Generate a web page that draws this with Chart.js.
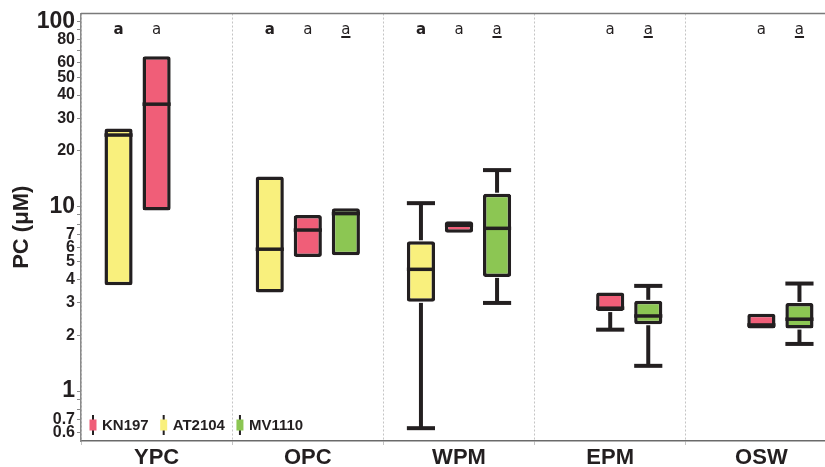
<!DOCTYPE html>
<html><head><meta charset="utf-8">
<script src="https://cdn.jsdelivr.net/npm/chart.js@4/dist/chart.umd.min.js"></script>
<style>html,body{margin:0;padding:0;overflow:hidden;background:#fff}#wrap{width:837px;height:467px}</style>
</head><body><div id="wrap"><canvas id="c" width="837" height="467"></canvas></div>
<script>
// ---- data ----
const categories = ['YPC', 'OPC', 'WPM', 'EPM', 'OSW'];
const seriesNames = ['AT2104', 'KN197', 'MV1110'];   // slot order inside each group
const legendOrder = ['KN197', 'AT2104', 'MV1110'];

const at2104Min    = [null, null, 0.63, null, null];
const at2104Q1     = [3.74, 3.42, 3.04, null, null];
const at2104Median = [24.3, 5.86, 4.56, null, null];
const at2104Q3     = [26.4, 14.5, 6.47, null, null];
const at2104Max    = [null, null, 10.4, null, null];

const kn197Min    = [null, null, null, 2.15, null];
const kn197Q1     = [9.5, 5.32, 7.2, 2.71, 2.18];
const kn197Median = [35.7, 7.44, 7.9, 2.81, 2.28];
const kn197Q3     = [64.9, 8.97, 8.3, 3.42, 2.62];
const kn197Max    = [null, null, null, null, null];

const mv1110Min    = [null, null, 3.0, 1.37, 1.80];
const mv1110Q1     = [null, 5.43, 4.15, 2.30, 2.18];
const mv1110Median = [null, 9.13, 7.6, 2.55, 2.45];
const mv1110Q3     = [null, 9.75, 11.7, 3.08, 3.0];
const mv1110Max    = [null, null, 15.7, 3.71, 3.82];

const at2104Letters = ['a', 'a', 'a', null, null];
const kn197Letters  = ['a', 'a', 'a', 'a', 'a'];
const mv1110Letters = [null, 'a', 'a', 'a', 'a'];

const yTickValues = [0.6, 0.7, 0.8, 0.9, 1, 2, 3, 4, 5, 6, 7, 8, 9, 10, 20, 30, 40, 50, 60, 70, 80, 90, 100];
const yTickLabels = ['0.6', '0.7', '', '', '1', '2', '3', '4', '5', '6', '7', '', '', '10', '20', '30', '40', '50', '60', '', '80', '', '100'];
const yBigTicks = [1, 10, 100];

// ---- styles ----
const DARK = '#231f20';
const colors = { AT2104: '#f9f07d', KN197: '#f05e78', MV1110: '#8cc653' };
const letterStyle = { AT2104: 'bold', KN197: 'normal', MV1110: 'underline' };
const FONT = "'Liberation Sans', Arial, Helvetica, sans-serif";

const stats = {
  AT2104: { min: at2104Min, q1: at2104Q1, med: at2104Median, q3: at2104Q3, max: at2104Max, letters: at2104Letters },
  KN197:  { min: kn197Min,  q1: kn197Q1,  med: kn197Median,  q3: kn197Q3,  max: kn197Max,  letters: kn197Letters },
  MV1110: { min: mv1110Min, q1: mv1110Q1, med: mv1110Median, q3: mv1110Q3, max: mv1110Max, letters: mv1110Letters }
};

const datasets = seriesNames.map(name => ({
  label: name,
  data: categories.map((c, i) => stats[name].q1[i] == null ? null : [stats[name].q1[i], stats[name].q3[i]]),
  backgroundColor: colors[name],
  borderColor: DARK,
  borderWidth: 3.5,
  borderRadius: 2.5,
  borderSkipped: false,
  categoryPercentage: 0.755,
  barPercentage: 0.74
}));

const boxPlugin = {
  id: 'boxExtras',
  afterDatasetsDraw(chart) {
    const ctx = chart.ctx, y = chart.scales.y;
    ctx.save();
    ctx.strokeStyle = DARK;
    ctx.lineCap = 'butt';
    seriesNames.forEach((name, di) => {
      const meta = chart.getDatasetMeta(di);
      const s = stats[name];
      meta.data.forEach((el, j) => {
        if (s.q1[j] == null) return;
        const x = el.x, w = el.width;
        const yq1 = y.getPixelForValue(s.q1[j]);
        const yq3 = y.getPixelForValue(s.q3[j]);
        ctx.lineWidth = 4;
        if (s.max[j] != null) {
          const ym = y.getPixelForValue(s.max[j]);
          ctx.beginPath(); ctx.moveTo(x, yq3 - 1); ctx.lineTo(x, ym); ctx.stroke();
          ctx.beginPath(); ctx.moveTo(x - w / 2, ym); ctx.lineTo(x + w / 2, ym); ctx.stroke();
        }
        if (s.min[j] != null) {
          const ym = y.getPixelForValue(s.min[j]);
          ctx.beginPath(); ctx.moveTo(x, yq1 + 1); ctx.lineTo(x, ym); ctx.stroke();
          ctx.beginPath(); ctx.moveTo(x - w / 2, ym); ctx.lineTo(x + w / 2, ym); ctx.stroke();
        }
        ctx.lineWidth = 3.5;
        const ymed = y.getPixelForValue(s.med[j]);
        ctx.beginPath(); ctx.moveTo(x - w / 2, ymed); ctx.lineTo(x + w / 2, ymed); ctx.stroke();
        // letters
        const L = s.letters[j];
        if (L) {
          const st = letterStyle[name];
          ctx.font = (st === 'bold' ? 'bold ' : '') + "15px 'DejaVu Sans', Verdana, sans-serif";
          ctx.fillStyle = DARK;
          ctx.textAlign = 'center';
          ctx.textBaseline = 'alphabetic';
          ctx.fillText(L, x, 34);
          if (st === 'underline') {
            const tw = ctx.measureText(L).width;
            ctx.fillRect(x - tw / 2, 36, tw, 2);
          }
        }
      });
    });
    // top frame line
    const ca = chart.chartArea;
    ctx.strokeStyle = '#7a7a7a';
    ctx.lineWidth = 1.5;
    ctx.beginPath(); ctx.moveTo(ca.left, ca.top); ctx.lineTo(ca.right, ca.top); ctx.stroke();
    // legend
    let lx = ca.left + 12;
    const ly = ca.bottom - 16;
    ctx.font = 'bold 15px ' + FONT;
    ctx.textAlign = 'left';
    ctx.textBaseline = 'middle';
    legendOrder.forEach(name => {
      ctx.fillStyle = DARK;
      ctx.fillRect(lx - 1, ly - 10, 2, 20);
      ctx.fillStyle = colors[name];
      ctx.fillRect(lx - 3.5, ly - 5.5, 7, 11);
      ctx.fillStyle = DARK;
      ctx.fillText(name, lx + 9, ly + 1);
      lx += 9 + ctx.measureText(name).width + 15;
    });
    ctx.restore();
  }
};

new Chart(document.getElementById('c'), {
  type: 'bar',
  data: { labels: categories, datasets },
  plugins: [boxPlugin],
  options: {
    responsive: false,
    animation: false,
    devicePixelRatio: 1,
    layout: { padding: { left: 0, right: 0, top: 13, bottom: 0 } },
    plugins: { legend: { display: false }, tooltip: { enabled: false } },
    scales: {
      x: {
        offset: true,
        grid: { display: true, drawOnChartArea: true, color: '#c4c4c4', lineWidth: 1, tickLength: 4, offset: true },
        border: { display: true, color: '#6a6a6a', width: 1.5, dash: [2, 2] },
        ticks: { color: DARK, font: { family: FONT, size: 22, weight: 'bold' }, padding: 0 },
        afterFit(s) { s.height = 26; }
      },
      y: {
        type: 'logarithmic',
        min: 0.537,
        max: 110.5,
        afterBuildTicks(s) { s.ticks = yTickValues.map(v => ({ value: v })); },
        grid: { display: true, drawOnChartArea: false, color: '#8a8a8a', tickLength: 4 },
        border: { display: true, color: '#8a8a8a', width: 1.5 },
        ticks: {
          autoSkip: false,
          padding: 2,
          color: DARK,
          font: ctx => ({ family: FONT, weight: 'bold', size: yBigTicks.includes(ctx.tick && ctx.tick.value) ? 23 : 16, lineHeight: 1 }),
          callback: (v) => { const k = yTickValues.indexOf(v); return k >= 0 ? yTickLabels[k] : ''; }
        },
        title: { display: true, text: 'PC (μM)', color: DARK, font: { family: FONT, size: 22, weight: 'bold' }, padding: { top: 9, bottom: 0 } },
        afterFit(s) { s.width = 81; }
      }
    }
  }
});
</script>
</body></html>
